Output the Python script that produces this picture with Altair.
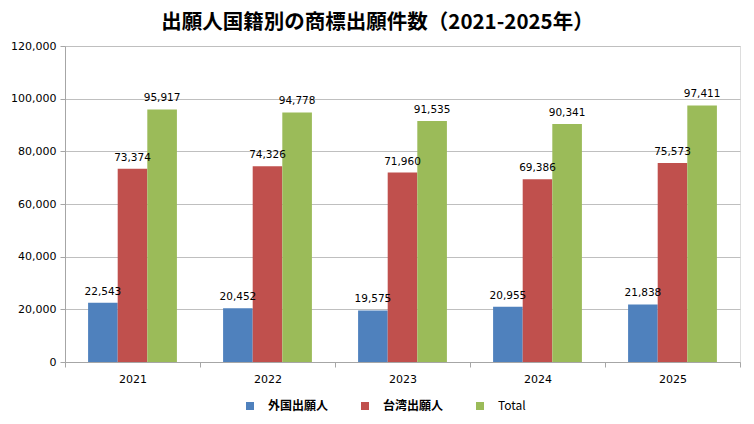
import altair as alt
import pandas as pd

years = ["2021", "2022", "2023", "2024", "2025"]
foreign = [22543, 20452, 19575, 20955, 21838]
taiwan = [73374, 74326, 71960, 69386, 75573]
total = [95917, 94778, 91535, 90341, 97411]
series = ["外国出願人", "台湾出願人", "Total"]
colors = ["#4F81BD", "#C0504D", "#9BBB59"]
y_ticks = [0, 20000, 40000, 60000, 80000, 100000, 120000]

rows = []
for i, yr in enumerate(years):
    for s, vals in zip(series, [foreign, taiwan, total]):
        rows.append({"year": yr, "series": s, "value": vals[i]})
df = pd.DataFrame(rows)

FONT = "DejaVu Sans"
CJK = "Noto Sans CJK JP"

x = alt.X(
    "year:N",
    sort=years,
    scale=alt.Scale(paddingInner=0, paddingOuter=0),
    axis=alt.Axis(
        title=None, labelAngle=0, tickBand="extent", domainColor="#a6a6a6",
        tickColor="#a6a6a6", tickSize=5, labelFont=FONT, labelFontSize=11,
        labelColor="#000000", labelPadding=6,
    ),
)
xoff = alt.XOffset(
    "series:N", sort=series,
    scale=alt.Scale(paddingInner=0, paddingOuter=0.78),
)
y = alt.Y(
    "value:Q",
    scale=alt.Scale(domain=[0, 120000], nice=False),
    axis=alt.Axis(
        title=None, values=y_ticks, format=",d", grid=True, gridColor="#bfbfbf",
        domainColor="#a6a6a6", tickColor="#a6a6a6", tickSize=5,
        labelFont=FONT, labelFontSize=11, labelColor="#000000", labelPadding=4,
    ),
)
color = alt.Color(
    "series:N", sort=series,
    scale=alt.Scale(domain=series, range=colors),
    legend=alt.Legend(
        title=None, orient="none", direction="horizontal", legendX=179, legendY=354,
        symbolType="square", symbolSize=64, symbolStrokeWidth=0,
        labelFont=CJK, labelFontSize=12,
        labelFontWeight={"expr": "datum.label == 'Total' ? 'normal' : 'bold'"},
        labelColor="#000000", labelOffset=12, columnPadding=30,
    ),
)

base = alt.Chart(df)
bars = base.mark_bar().encode(x=x, xOffset=xoff, y=y, color=color)
labels = base.mark_text(
    baseline="bottom", dy=-6, font=FONT, fontSize=10.5, color="#000000"
).encode(
    x=x, xOffset=xoff, y=y, text=alt.Text("value:Q", format=",d")
)

chart = (
    alt.layer(bars, labels)
    .properties(
        width=675,
        height=316,
        autosize=alt.AutoSizeParams(type="none"),
        padding={"left": 57, "top": 38, "right": 6, "bottom": 54},
        title=alt.TitleParams(
            "出願人国籍別の商標出願件数（2021-2025年）",
            font=CJK, fontSize=20.5, fontWeight="bold", color="#000000",
            anchor="middle", offset=7, dx=-25,
        ),
    )
    .configure_view(stroke=None)
    .configure(background="#ffffff")
)

chart.save("out.html", embed_options={"renderer": "svg", "actions": False})
